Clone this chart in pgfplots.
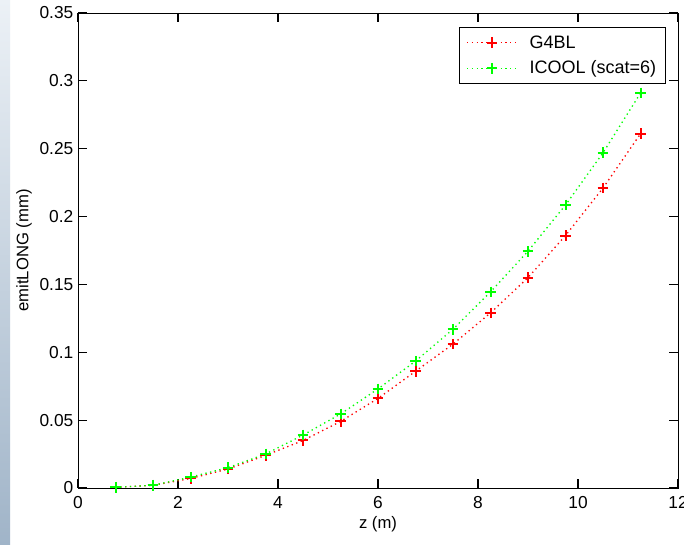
\documentclass[border=0pt]{standalone}
\usepackage{pgfplots}
\pgfplotsset{compat=1.18}
\usepackage{fontspec}
\setmainfont{Liberation Sans}
\begin{document}
\begin{tikzpicture}
\useasboundingbox (0,0) rectangle (513pt,408.75pt);
\fill[white] (0,0) rectangle (513pt,408.75pt);
\shade[top color={rgb,255:red,236;green,241;blue,246}, bottom color={rgb,255:red,160;green,180;blue,200}] (0,0) rectangle (7.5pt,408.75pt);
\begin{axis}[
  at={(58.5pt,42.75pt)}, anchor=south west,
  scale only axis, width=450pt, height=356.25pt,
  xmin=0, xmax=12, ymin=0, ymax=0.35,
  xtick={0,2,...,12},
  ytick={0,0.05,0.1,0.15,0.2,0.25,0.3,0.35},
  yticklabels={0,0.05,0.1,0.15,0.2,0.25,0.3,0.35},
  tick align=inside, xtick pos=both, ytick pos=both,
  every tick/.style={draw=black, line width=0.9pt},
  major tick length=6.5pt,
  axis line style={black, line width=0.7pt},
  /pgf/number format/assume math mode=true,
  ticklabel style={font=\fontsize{13}{15}\selectfont},
  xticklabel style={yshift=-3pt},
  label style={font=\fontsize{12.5}{14}\selectfont},
  xlabel={z (m)}, ylabel={emitLONG (mm)},
  xlabel style={yshift=1pt},
  ylabel style={yshift=-1pt},
  legend style={at={(rel axis cs:1,1)}, anchor=north east, xshift=-9pt, yshift=-10.5pt,
    draw=black, line width=0.7pt, font=\fontsize{13.5}{16}\selectfont, inner xsep=5pt, inner ysep=4pt,
    row sep=4pt, /tikz/every odd column/.append style={column sep=7pt}},
  legend cell align=left,
  legend image code/.code={\draw[mark repeat=2,mark phase=2,#1] plot coordinates {(0cm,0cm)(0.66cm,0cm)(1.32cm,0cm)};},
]
\addplot[red, line width=1pt, dash pattern=on 1pt off 2.6pt, mark=+, mark size=4pt, mark options={solid, line width=1.5pt}]
coordinates {(0.75,0.0005)(1.5,0.002)(2.25,0.007)(3,0.014)(3.75,0.024)(4.5,0.035)(5.25,0.049)(6,0.066)(6.75,0.086)(7.5,0.106)(8.25,0.129)(9,0.155)(9.75,0.186)(10.5,0.221)(11.25,0.261)};
\addlegendentry{G4BL}
\addplot[green, line width=1pt, dash pattern=on 1pt off 2.6pt, mark=+, mark size=4pt, mark options={solid, line width=1.5pt}]
coordinates {(0.75,0.0005)(1.5,0.002)(2.25,0.008)(3,0.015)(3.75,0.025)(4.5,0.039)(5.25,0.0545)(6,0.073)(6.75,0.0935)(7.5,0.117)(8.25,0.1445)(9,0.1745)(9.75,0.2085)(10.5,0.247)(11.25,0.291)};
\addlegendentry{ICOOL (scat=6)}
\end{axis}
\end{tikzpicture}
\end{document}
